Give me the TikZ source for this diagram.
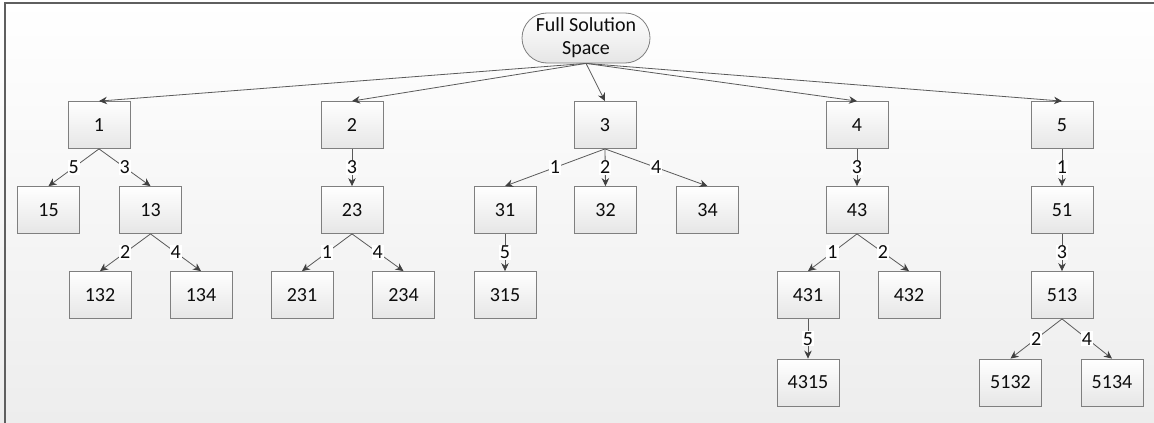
\documentclass[tikz,border=0pt]{standalone}
\usepackage{fontspec}
\setmainfont{Carlito}
\usetikzlibrary{arrows.meta,shapes.misc}
\definecolor{edgec}{HTML}{5A5A5A}
\definecolor{tipc}{HTML}{404040}
\definecolor{boxc}{HTML}{7F7F7F}
\definecolor{boxbot}{HTML}{E6E6E6}
\definecolor{bgbot}{HTML}{EDEDED}
\definecolor{framec}{HTML}{5F5F5F}
\definecolor{txt}{HTML}{0D0D0D}
\begin{document}
\begin{tikzpicture}[x=1pt,y=-1pt,
  txtfont/.style={font=\fontsize{20}{23}\selectfont, text=txt},
  box/.style={draw=boxc, line width=0.8pt, top color=white, bottom color=boxbot,
    minimum width=62pt, minimum height=47pt, inner sep=0pt, txtfont},
  rootbox/.style={rounded rectangle, draw=boxc, line width=0.8pt, top color=white,
    bottom color=boxbot, minimum width=130pt, minimum height=50pt, inner sep=1pt,
    align=center, txtfont},
  conn/.style={draw=edgec, line width=0.8pt, -{Stealth[length=8pt,width=7.5pt,color=tipc]}},
  lbl/.style={fill=white, inner sep=1pt, txtfont}
]
\useasboundingbox (0,0) rectangle (1154,423);
\shade[top color=white, bottom color=bgbot] (0,0) rectangle (1154,423);
\draw[framec, line width=1.5pt] (5,423) -- (5,3) -- (1154,3);

\node[rootbox] (root) at (586,38) {Full Solution\\[0pt]Space};

% row 1
\node[box] (n1) at (99,125) {1};
\node[box] (n2) at (352,125) {2};
\node[box] (n3) at (605,125) {3};
\node[box] (n4) at (857,125) {4};
\node[box] (n5) at (1062,125) {5};
% row 2
\node[box] (n15) at (48.5,210) {15};
\node[box] (n13) at (150.5,210) {13};
\node[box] (n23) at (352,210) {23};
\node[box] (n31) at (505,210) {31};
\node[box] (n32) at (605.5,210) {32};
\node[box] (n34) at (707.5,210) {34};
\node[box] (n43) at (857,210) {43};
\node[box] (n51) at (1062,210) {51};
% row 3
\node[box] (n132) at (100,295) {132};
\node[box] (n134) at (201,295) {134};
\node[box] (n231) at (302,295) {231};
\node[box] (n234) at (403.5,295) {234};
\node[box] (n315) at (505,295) {315};
\node[box] (n431) at (808,295) {431};
\node[box] (n432) at (909,295) {432};
\node[box] (n513) at (1062,295) {513};
% row 4
\node[box] (n4315) at (808,382.5) {4315};
\node[box] (n5132) at (1010.5,382.5) {5132};
\node[box] (n5134) at (1112,382.5) {5134};

% edges from root
\foreach \c in {n1,n2,n3,n4,n5}
  \draw[conn] (root.south) -- (\c.north);

\draw[conn] (n1.south) -- node[lbl]{5} (n15.north);
\draw[conn] (n1.south) -- node[lbl]{3} (n13.north);
\draw[conn] (n13.south) -- node[lbl]{2} (n132.north);
\draw[conn] (n13.south) -- node[lbl]{4} (n134.north);

\draw[conn] (n2.south) -- node[lbl]{3} (n23.north);
\draw[conn] (n23.south) -- node[lbl]{1} (n231.north);
\draw[conn] (n23.south) -- node[lbl]{4} (n234.north);

\draw[conn] (n3.south) -- node[lbl]{1} (n31.north);
\draw[conn] (n3.south) -- node[lbl]{2} (n32.north);
\draw[conn] (n3.south) -- node[lbl]{4} (n34.north);
\draw[conn] (n31.south) -- node[lbl]{5} (n315.north);

\draw[conn] (n4.south) -- node[lbl]{3} (n43.north);
\draw[conn] (n43.south) -- node[lbl]{1} (n431.north);
\draw[conn] (n43.south) -- node[lbl]{2} (n432.north);
\draw[conn] (n431.south) -- node[lbl]{5} (n4315.north);

\draw[conn] (n5.south) -- node[lbl]{1} (n51.north);
\draw[conn] (n51.south) -- node[lbl]{3} (n513.north);
\draw[conn] (n513.south) -- node[lbl]{2} (n5132.north);
\draw[conn] (n513.south) -- node[lbl]{4} (n5134.north);
\end{tikzpicture}
\end{document}
